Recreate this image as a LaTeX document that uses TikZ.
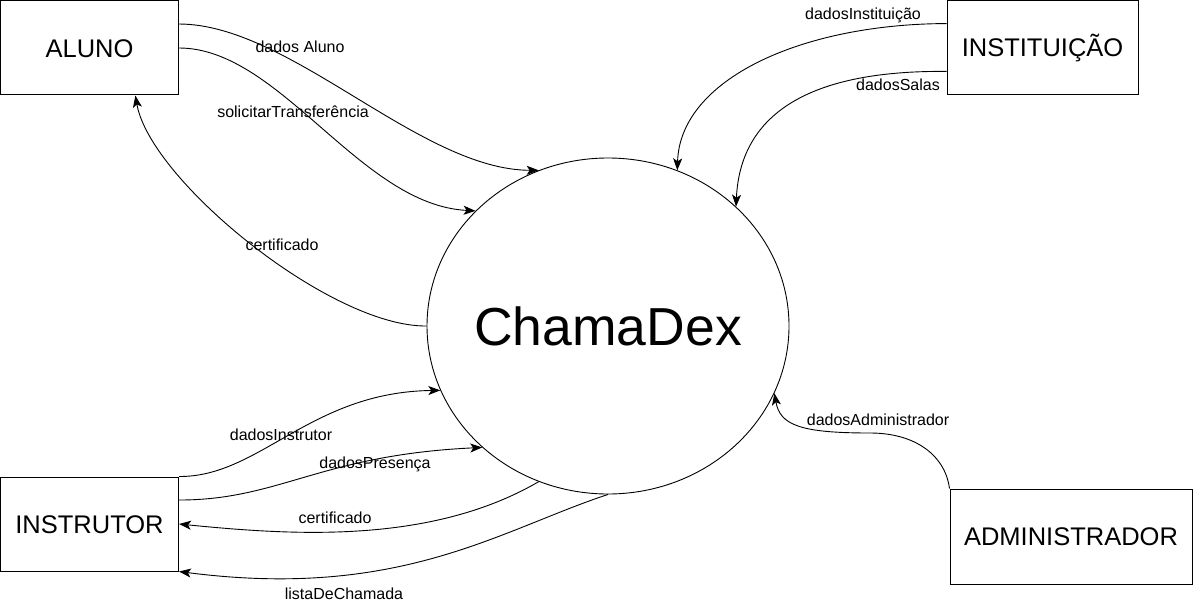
\documentclass[tikz,border=0pt]{standalone}
\usepackage{fontspec}
\setmainfont{Liberation Sans}
\usetikzlibrary{arrows.meta,shapes.geometric}

\begin{document}
\begin{tikzpicture}[
    x=1pt, y=-1pt,
    box/.style={rectangle, draw, line width=1pt, inner sep=0pt,
                text height=18.3pt, text depth=0pt, font=\fontsize{25.5}{30}\selectfont},
    proc/.style={ellipse, draw, line width=0.9pt, inner ysep=0pt, inner xsep=-60pt,
                 minimum width=362pt, minimum height=336pt,
                 text height=39pt, text depth=0pt, font=\fontsize{53.5}{62}\selectfont},
    arr/.style={-{Stealth[length=12pt, width=9pt, inset=3pt]}, line width=0.9pt},
    lbl/.style={font=\fontsize{16}{19}\selectfont, inner sep=0pt, text height=11.5pt, text depth=3.4pt}
]
    \useasboundingbox (0,0) rectangle (1193,607);

    \node[proc] (chama) at (608,326) {ChamaDex};
    \node[box, minimum width=178pt, minimum height=94pt]   (aluno) at (89.5,48)    {ALUNO};
    \node[box, minimum width=191pt, minimum height=94pt]   (inst)  at (1042.5,47.5) {INSTITUIÇÃO};
    \node[box, minimum width=178pt, minimum height=94pt]   (instr) at (89.5,524)   {INSTRUTOR};
    \node[box, minimum width=242pt, minimum height=95pt]   (admin) at (1071,536.5) {ADMINISTRADOR};

    % Aluno
    \draw[arr] (aluno.15) .. controls (290,24) and (420,170) .. (chama.114)
        node[lbl] at (300,48) {dados Aluno};
    \draw[arr] (aluno.east) .. controls (280,48) and (360,205) .. (chama.139)
        node[lbl] at (293,113) {solicitarTransferência};
    \draw[arr] (chama.west) .. controls (330,327) and (150,180) .. (aluno.-46)
        node[lbl] at (282,246) {certificado};

    % Instituicao
    \draw[arr] (inst.166) .. controls (800,24) and (680,80) .. (chama.66)
        node[lbl] at (863,15) {dadosInstituição};
    \draw[arr] (inst.194) .. controls (800,70) and (740,120) .. (chama.43)
        node[lbl] at (898,86) {dadosSalas};

    % Administrador
    \draw[arr] (admin.north west) .. controls (945,455) and (915,433) .. (870,433)
        .. controls (800,433) and (780,425) .. (chama.-22)
        node[lbl] at (878,421) {dadosAdministrador};

    % Instrutor
    \draw[arr] (instr.north east) .. controls (260,477) and (310,392) .. (chama.201)
        node[lbl] at (281,436) {dadosInstrutor};
    \draw[arr] (instr.15) .. controls (280,500) and (320,455) .. (chama.224)
        node[lbl] at (375,464) {dadosPresença};
    \draw[arr] (chama.246) .. controls (430,545) and (290,535) .. (instr.east)
        node[lbl] at (335,519) {certificado};
    \draw[arr] (chama.south) .. controls (500,530) and (400,600) .. (instr.south east)
        node[lbl] at (344,595) {listaDeChamada};
\end{tikzpicture}
\end{document}
